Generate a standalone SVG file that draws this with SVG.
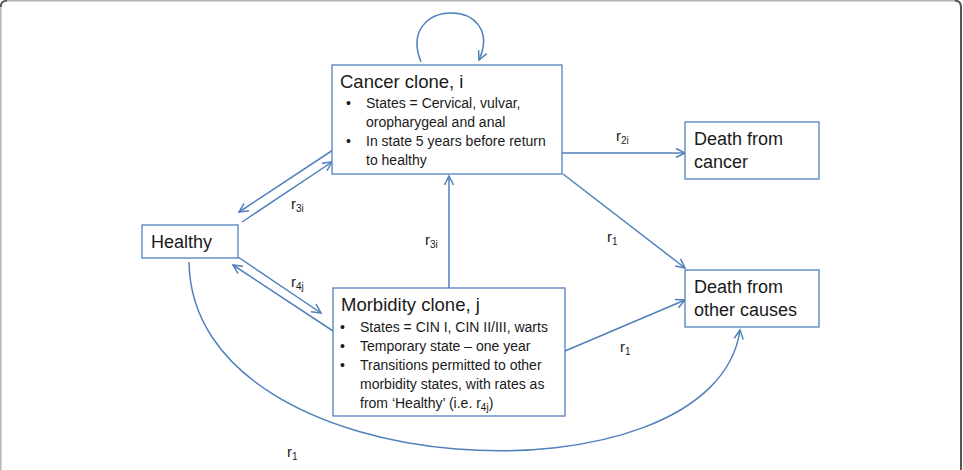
<svg xmlns="http://www.w3.org/2000/svg" width="963" height="470" viewBox="0 0 963 470">
  <style>
    .box { fill: #ffffff; stroke: #4f81bd; stroke-width: 1.3; }
    .edge { fill: none; stroke: #4f81bd; stroke-width: 1.5; }
    .title { font-family: "Liberation Sans", Arial, sans-serif; font-size: 18.5px; fill: #1a1a1a; }
    .name { font-family: "Liberation Sans", Arial, sans-serif; font-size: 18px; fill: #1a1a1a; }
    .item { font-family: "Liberation Sans", Arial, sans-serif; font-size: 14px; fill: #1a1a1a; }
    .rate { font-family: "Liberation Sans", Arial, sans-serif; font-size: 15px; fill: #1a1a1a; }
    .sub { font-size: 10px; }
  </style>
  <defs>
    <marker id="arrow" markerUnits="userSpaceOnUse" markerWidth="12" markerHeight="12" viewBox="0 0 12 12" refX="10" refY="6" orient="auto">
      <path d="M1,1.5 L10,6 L1,10.5" fill="none" stroke="#4f81bd" stroke-width="1.5"/>
    </marker>
  </defs>

  <!-- page frame -->
  <rect x="0" y="0" width="963" height="470" fill="#ffffff"/>
  <path d="M0.8,480 L0.8,6 Q0.8,0.8 6,0.8 L955,0.8" fill="none" stroke="#b4b4b4" stroke-width="1.5"/>
  <path d="M955,0.8 Q961,0.8 961,7 L961,480" fill="none" stroke="#555555" stroke-width="2"/>
  <path d="M0.8,7 Q0.8,0.8 7,0.8" fill="none" stroke="#444444" stroke-width="1.6"/>

  <!-- connectors -->
  <g id="connectors">
    <path class="edge" d="M421,62 C395,-3 507,-3 479,60" marker-end="url(#arrow)"/>
    <path class="edge" d="M333,150 L239,212" marker-end="url(#arrow)"/>
    <path class="edge" d="M242,222 L332,162" marker-end="url(#arrow)"/>
    <path class="edge" d="M333,331 L233,265" marker-end="url(#arrow)"/>
    <path class="edge" d="M238,257 L321,313" marker-end="url(#arrow)"/>
    <path class="edge" d="M449,288 L449,176" marker-end="url(#arrow)"/>
    <path class="edge" d="M562,153 L685,153" marker-end="url(#arrow)"/>
    <path class="edge" d="M563,174 L685,268" marker-end="url(#arrow)"/>
    <path class="edge" d="M565,351 L685,300" marker-end="url(#arrow)"/>
    <path class="edge" d="M189,262 C192,490 715,510 740,330" marker-end="url(#arrow)"/>

    <text class="rate" x="291" y="209">r<tspan class="sub" dy="3">3i</tspan></text>
    <text class="rate" x="291" y="287">r<tspan class="sub" dy="3">4j</tspan></text>
    <text class="rate" x="425" y="245">r<tspan class="sub" dy="3">3i</tspan></text>
    <text class="rate" x="616" y="141">r<tspan class="sub" dy="3">2i</tspan></text>
    <text class="rate" x="607" y="242">r<tspan class="sub" dy="3">1</tspan></text>
    <text class="rate" x="620" y="352">r<tspan class="sub" dy="3">1</tspan></text>
    <text class="rate" x="287" y="457">r<tspan class="sub" dy="3">1</tspan></text>
  </g>

  <!-- cancer clone -->
  <g id="cancer">
    <rect class="box" x="332" y="65" width="230" height="109"/>
    <text class="title" x="340" y="88">Cancer clone, i</text>
    <text class="item" x="346" y="108">•</text>
    <text class="item" x="366" y="108">States = Cervical, vulvar,</text>
    <text class="item" x="366" y="127">oropharygeal and anal</text>
    <text class="item" x="346" y="146">•</text>
    <text class="item" x="366" y="146">In state 5 years before return</text>
    <text class="item" x="366" y="165">to healthy</text>
  </g>

  <!-- healthy -->
  <g id="healthy">
    <rect class="box" x="142" y="225" width="96" height="33"/>
    <text class="name" x="151" y="248">Healthy</text>
  </g>

  <!-- morbidity clone -->
  <g id="morbidity">
    <rect class="box" x="333" y="288" width="232" height="128"/>
    <text class="title" x="341" y="311">Morbidity clone, j</text>
    <text class="item" x="340" y="332">•</text>
    <text class="item" x="360" y="332">States = CIN I, CIN II/III, warts</text>
    <text class="item" x="340" y="351">•</text>
    <text class="item" x="360" y="351">Temporary state – one year</text>
    <text class="item" x="340" y="370">•</text>
    <text class="item" x="360" y="370">Transitions permitted to other</text>
    <text class="item" x="360" y="389">morbidity states, with rates as</text>
    <text class="item" x="360" y="408">from ‘Healthy’ (i.e. r<tspan class="sub" dy="3">4j</tspan><tspan dy="-3">)</tspan></text>
  </g>

  <!-- death from cancer -->
  <g id="death-cancer">
    <rect class="box" x="685" y="122" width="134" height="57"/>
    <text class="name" x="694" y="145">Death from</text>
    <text class="name" x="694" y="168">cancer</text>
  </g>

  <!-- death from other causes -->
  <g id="death-other">
    <rect class="box" x="685" y="270" width="134" height="57"/>
    <text class="name" x="694" y="293">Death from</text>
    <text class="name" x="694" y="316">other causes</text>
  </g>
</svg>
